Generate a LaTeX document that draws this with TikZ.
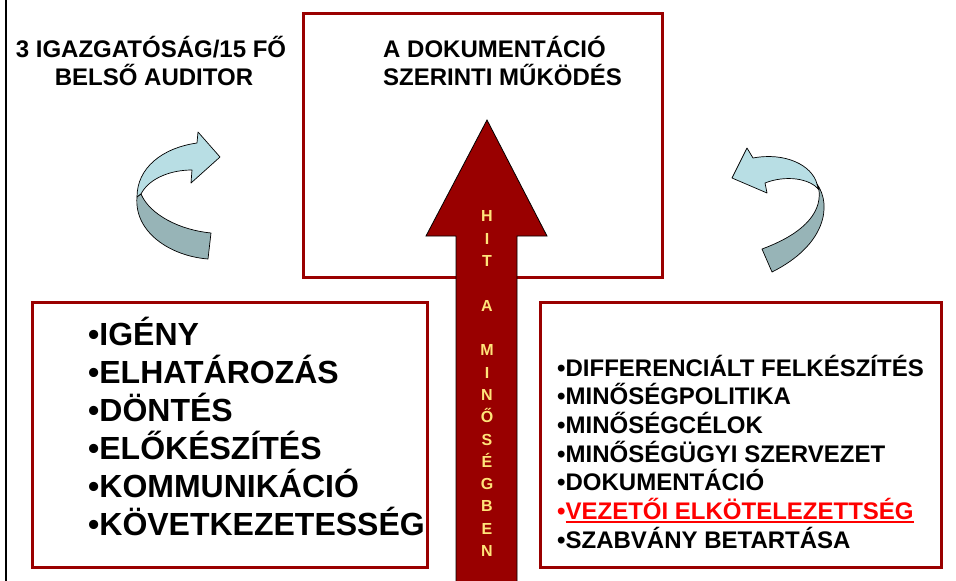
\documentclass[tikz,border=0pt]{standalone}
\usepackage{fontspec}
\setmainfont{Liberation Sans}
\begin{document}
\definecolor{boxred}{HTML}{9A0000}
\definecolor{arrowred}{HTML}{990000}
\definecolor{hityellow}{HTML}{FFE47A}
\definecolor{ribbonlightc}{HTML}{B8DEE4}
\definecolor{ribbondarkc}{HTML}{97B4B7}
\newcommand{\redunder}[1]{\vtop{\hbox{#1}\kern1.5pt\hrule height 2pt}}
\begin{tikzpicture}[x=1pt,y=-1pt,
  boxframe/.style={draw=boxred, line width=3pt, fill=white, rectangle, inner sep=0pt},
  titletext/.style={font=\bfseries\fontsize{24}{29}\selectfont, inner sep=0pt},
  bigitem/.style={font=\bfseries\fontsize{32}{38}\selectfont, anchor=base west, inner sep=0pt},
  smallitem/.style={font=\bfseries\fontsize{24}{29}\selectfont, anchor=base west, inner sep=0pt},
  hitletter/.style={font=\bfseries\fontsize{16}{19}\selectfont, text=hityellow, anchor=base, inner sep=0pt},
  bigarrow/.style={fill=arrowred, draw=black, line width=0.8pt, line join=miter},
  ribbonlight/.style={fill=ribbonlightc, draw=black, line width=0.7pt, line join=round},
  ribbondark/.style={fill=ribbondarkc, draw=black, line width=0.7pt, line join=round}]
\useasboundingbox (0,0) rectangle (956,581);
\fill[white] (0,0) rectangle (956,581);
\draw[line width=2pt] (6,0) -- (6,581);

% top box
\node[boxframe, minimum width=359pt, minimum height=264pt] (topbox) at (482.5,145) {};
\node[titletext, anchor=base west] (doc1) at (383,57.5) {A DOKUMENTÁCIÓ};
\node[titletext, anchor=base west] (doc2) at (383,85) {SZERINTI MŰKÖDÉS};

% top-left title
\node[titletext, anchor=base] (aud1) at (151,57.5) {3 IGAZGATÓSÁG/15 FŐ};
\node[titletext, anchor=base] (aud2) at (154,85) {BELSŐ AUDITOR};

% big arrow
\draw[bigarrow] (487,120) -- (547,236) -- (517,236) -- (517,584) -- (456,584) -- (456,236) -- (426,236) -- cycle;
\foreach \ch [count=\i] in {H,I,T,{},A,{},M,I,N,Ő,S,É,G,B,E,N}
  \node[hitletter] (hit\i) at (487,{221.7+22.33*(\i-1)}) {\ch};

% left box
\node[boxframe, minimum width=395pt, minimum height=265pt] (leftbox) at (229.5,434.5) {};
\foreach \t [count=\i] in {IGÉNY,ELHATÁROZÁS,DÖNTÉS,ELŐKÉSZÍTÉS,KOMMUNIKÁCIÓ,KÖVETKEZETESSÉG}
  \node[bigitem] (litem\i) at (88,{345+38*(\i-1)}) {\textbullet\t};

% right box
\node[boxframe, minimum width=401pt, minimum height=265pt] (rightbox) at (740.5,434.5) {};
\node[smallitem] (ritem1) at (557,376) {\textbullet DIFFERENCIÁLT FELKÉSZÍTÉS};
\node[smallitem] (ritem2) at (557,404.7) {\textbullet MINŐSÉGPOLITIKA};
\node[smallitem] (ritem3) at (557,433.3) {\textbullet MINŐSÉGCÉLOK};
\node[smallitem] (ritem4) at (557,462) {\textbullet MINŐSÉGÜGYI SZERVEZET};
\node[smallitem] (ritem5) at (557,490.7) {\textbullet DOKUMENTÁCIÓ};
\node[smallitem, text=red] (ritem6) at (557,519.3) {\textbullet\redunder{VEZETŐI ELKÖTELEZETTSÉG}};
\node[smallitem] (ritem7) at (557,548) {\textbullet SZABVÁNY BETARTÁSA};

% left curved arrow
\draw[ribbonlight] (137,197) .. controls (137,168) and (162,148) .. (197,143) -- (198,132) -- (220,157) -- (191,183) -- (192,170) .. controls (168,170) and (148,180) .. (141,194) -- cycle;
\draw[ribbondark] (137,197) .. controls (134,232) and (170,256) .. (208,259) -- (211,233) .. controls (180,230) and (150,215) .. (141,194) -- cycle;

% right curved arrow
\draw[ribbonlight] (817,184) .. controls (812,165) and (785,152) .. (753,158) -- (747,148) -- (732,178) -- (767,193) -- (765,183) .. controls (785,175) and (810,178) .. (819,190) -- cycle;
\draw[ribbondark] (817,184) .. controls (832,205) and (826,245) .. (772,272) -- (762,249) .. controls (800,235) and (822,215) .. (819,190) -- cycle;
\end{tikzpicture}
\end{document}
